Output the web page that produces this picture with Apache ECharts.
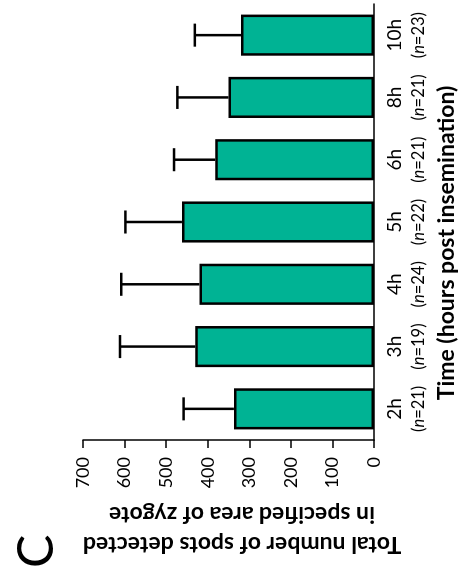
<!DOCTYPE html>
<html>
<head>
<meta charset="utf-8">
<script src="https://cdn.jsdelivr.net/npm/echarts@6/dist/echarts.min.js"></script>
<style>
  html, body { margin: 0; padding: 0; background: #fff; overflow: hidden; }
  /* the figure is drawn upright and then turned a quarter turn, like the source */
  #main {
    position: absolute; left: 0; top: 0;
    width: 575px; height: 465px;
    transform-origin: 0 0;
    transform: translate(0, 575px) rotate(-90deg);
  }
</style>
</head>
<body>
<div id="main"></div>
<script>
var categories = ['2h', '3h', '4h', '5h', '6h', '8h', '10h'];
var nCounts = [21, 19, 24, 22, 21, 21, 23];
var means = [337, 430, 420, 462, 382, 350, 320];
var sds = [121, 181, 188, 136, 99, 123, 111];
var valueMin = 0, valueMax = 700, valueStep = 100;

var font = 'Lato, "Open Sans", sans-serif';
var chart = echarts.init(document.getElementById('main'));

var errData = [];
for (var i = 0; i < categories.length; i++) {
    errData.push([i, means[i], means[i] + sds[i]]);
}

option = {
    backgroundColor: '#fff',
    animation: false,
    textStyle: { fontFamily: font },
    grid: { left: 135, right: 4, top: 83, bottom: 91 },
    graphic: [
        {
            type: 'text',
            left: 7, top: 12,
            style: { text: 'C', fontSize: 50, fontFamily: font, fill: '#000' }
        },
        {
            // category axis title
            type: 'text',
            x: 332, y: 447,
            style: {
                text: 'Time (hours post insemination)',
                fontSize: 23, fontWeight: 'bold', fontFamily: font, fill: '#000',
                align: 'center', verticalAlign: 'middle'
            }
        }
    ],
    xAxis: {
        type: 'category',
        data: categories,
        axisLine: { lineStyle: { color: '#000', width: 1.5 } },
        axisTick: { alignWithLabel: true, length: 8, lineStyle: { color: '#000', width: 1.5 } },
        axisLabel: {
            interval: 0,
            margin: 10,
            formatter: function (v, idx) {
                return '{a|' + v + '}\n{b|(}{i|n}{b|=' + nCounts[idx] + ')}';
            },
            rich: {
                a: { fontSize: 19, lineHeight: 22, color: '#000', fontFamily: font },
                b: { fontSize: 16.5, lineHeight: 25, color: '#000', fontFamily: font },
                i: { fontSize: 16.5, lineHeight: 25, color: '#000', fontFamily: font, fontStyle: 'italic' }
            }
        }
    },
    yAxis: {
        type: 'value',
        min: valueMin, max: valueMax, interval: valueStep,
        splitLine: { show: false },
        axisLine: { show: true, lineStyle: { color: '#000', width: 1.5 } },
        axisTick: { show: true, length: 8, lineStyle: { color: '#000', width: 1.5 } },
        axisLabel: { fontSize: 18, color: '#000', margin: 17, fontFamily: font },
        name: 'Total number of spots detected\nin specified area of zygote',
        nameLocation: 'middle',
        nameGap: 51,
        nameTextStyle: { fontSize: 23, fontWeight: 'bold', color: '#000', lineHeight: 30, fontFamily: font, padding: [0, 27, 0, 0] }
    },
    series: [
        {
            type: 'custom',
            data: errData,
            z: 1,
            renderItem: function (params, api) {
                var x = api.value(0);
                var lo = api.coord([x, api.value(1)]);
                var hi = api.coord([x, api.value(2)]);
                var half = api.size([1, 0])[0] * 0.185;
                var st = { stroke: '#000', lineWidth: 2.5 };
                return {
                    type: 'group',
                    children: [
                        { type: 'line', shape: { x1: lo[0], y1: lo[1], x2: hi[0], y2: hi[1] }, style: st },
                        { type: 'line', shape: { x1: hi[0] - half, y1: hi[1], x2: hi[0] + half, y2: hi[1] }, style: st }
                    ]
                };
            }
        },
        {
            type: 'bar',
            data: means,
            z: 2,
            barWidth: '66%',
            itemStyle: { color: '#00b394', borderColor: '#000', borderWidth: 2.5 }
        }
    ]
};
chart.setOption(option);
</script>
</body>
</html>
